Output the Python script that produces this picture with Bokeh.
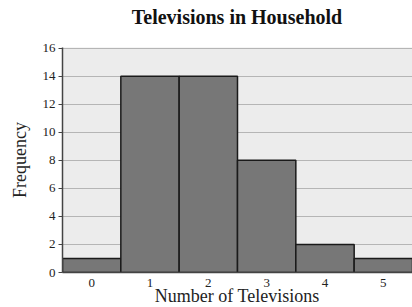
from bokeh.plotting import figure
from bokeh.models import ColumnDataSource, Range1d, FixedTicker, Div
from bokeh.layouts import column
from bokeh.embed import file_html
from bokeh.resources import INLINE

televisions = [0, 1, 2, 3, 4, 5]
frequency = [1, 14, 14, 8, 2, 1]
y_ticks = [0, 2, 4, 6, 8, 10, 12, 14, 16]
x_title = "Number of Televisions"
y_title = "Frequency"
chart_title = "Televisions in Household"

source = ColumnDataSource(dict(x=televisions, top=frequency))

p = figure(width=412, height=258, output_backend="svg", toolbar_location=None,
           x_range=Range1d(-0.5, 5.5), y_range=Range1d(0, 16.05),
           min_border_left=62, min_border_right=0, min_border_top=13, min_border_bottom=20,
           margin=0)

p.background_fill_color = "#ececec"
p.border_fill_color = "white"
p.outline_line_color = None

p.vbar(x="x", top="top", width=1, bottom=0, source=source,
       fill_color="#777777", line_color="#1a1a1a", line_width=1.5)

p.xgrid.grid_line_color = None
p.ygrid.grid_line_color = "#b5b5b5"
p.ygrid.grid_line_width = 1

p.yaxis.ticker = FixedTicker(ticks=y_ticks)
p.xaxis.ticker = FixedTicker(ticks=televisions)
p.yaxis.axis_label = y_title

for ax in (p.xaxis[0], p.yaxis[0]):
    ax.major_label_text_font = "Liberation Serif"
    ax.major_label_text_font_size = "13px"
    ax.major_label_text_color = "#222222"
    ax.axis_label_text_font = "Liberation Serif"
    ax.axis_label_text_font_size = "18px"
    ax.axis_label_text_font_style = "normal"
    ax.axis_label_text_color = "#222222"
    ax.minor_tick_line_color = None
    ax.axis_line_color = "#444444"
    ax.axis_line_width = 1.5

p.yaxis.major_tick_out = 4
p.yaxis.major_tick_in = 0
p.yaxis.major_tick_line_color = "#444444"
p.yaxis.major_label_standoff = 3
p.yaxis.axis_label_standoff = 10
p.xaxis.major_tick_line_color = None
p.xaxis.major_label_standoff = 0

title_div = Div(text=chart_title, width=350, height=34, margin=(0, 0, 0, 62),
                styles={"font-family": "Liberation Serif", "font-size": "20px",
                        "font-weight": "bold", "text-align": "center",
                        "line-height": "34px", "color": "#111111"})
xlabel_div = Div(text=x_title, width=350, height=21, margin=(-6, 0, 0, 62),
                 styles={"font-family": "Liberation Serif", "font-size": "18px",
                         "text-align": "center", "line-height": "21px",
                         "color": "#222222"})

layout = column(title_div, p, xlabel_div, spacing=0)

open("out.html", "w").write(file_html(layout, INLINE))
